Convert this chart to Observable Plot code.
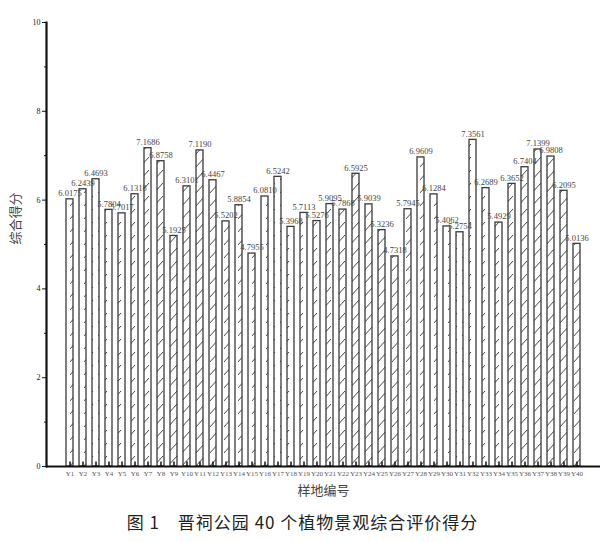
<!DOCTYPE html>
<html>
<head>
<meta charset="utf-8">
<script src="https://cdn.jsdelivr.net/npm/d3@7"></script>
<script src="https://cdn.jsdelivr.net/npm/@observablehq/plot@0.6"></script>
<style>
  body { margin: 0; background: #fff; }
  #chart { width: 605px; }
  .caption { width: 605px; text-align: center; font-family: "Noto Sans CJK SC", serif; font-size: 17px; color: #222; padding-top: 6px; line-height: 22px; letter-spacing: 1px; }
</style>
</head>
<body>
<div id="chart"></div>
<div class="caption">图 1　晋祠公园 40 个植物景观综合评价得分</div>
<script>
const categories = ["Y1","Y2","Y3","Y4","Y5","Y6","Y7","Y8","Y9","Y10",
  "Y11","Y12","Y13","Y14","Y15","Y16","Y17","Y18","Y19","Y20",
  "Y21","Y22","Y23","Y24","Y25","Y26","Y27","Y28","Y29","Y30",
  "Y31","Y32","Y33","Y34","Y35","Y36","Y37","Y38","Y39","Y40"];
const scores = [6.0175, 6.2439, 6.4693, 5.7804, 5.7017, 6.1318, 7.1686, 6.8758, 5.1925, 6.3101,
  7.1190, 6.4467, 5.5202, 5.8854, 4.7955, 6.0810, 6.5242, 5.3968, 5.7113, 5.5276,
  5.9095, 5.7868, 6.5925, 5.9039, 5.3236, 4.7318, 5.7945, 6.9609, 6.1284, 5.4062,
  5.2754, 7.3561, 6.2689, 5.4929, 6.3652, 6.7404, 7.1399, 6.9808, 6.2095, 5.0136];
const yMajorTicks = [0, 2, 4, 6, 8, 10];
const yMinorTicks = [1, 3, 5, 7, 9];
const xTitle = ["样地编号"];
const yTitle = ["综合得分"];

const data = categories.map((c, i) => ({site: c, score: scores[i]}));
const serif = "Liberation Serif, DejaVu Serif, serif";
const cjk = "Noto Sans CJK SC, sans-serif";

const svg = Plot.plot({
  width: 605,
  height: 505,
  marginLeft: 46,
  marginRight: 5,
  marginTop: 22,
  marginBottom: 39,
  style: {background: "#fff", color: "#222"},
  x: {domain: categories, padding: 0.48, label: null},
  y: {domain: [0, 10], label: null},
  marks: [
    Plot.barY(data, {x: "site", y: "score", fill: "url(#hatch)", stroke: "#3a3a3a", strokeWidth: 1.3}),
    Plot.text(data, {x: "site", y: "score", text: d => d.score.toFixed(4), dy: -6, fontSize: 8.5, fontFamily: serif, fill: "#444"}),
    Plot.ruleX(categories, {x: d => d, y1: 0, y2: 0.1, stroke: "#111", strokeWidth: 1.5}),
    Plot.ruleY([0], {stroke: "#111", strokeWidth: 2.2}),
    Plot.frame({anchor: "left", stroke: "#111", strokeWidth: 2.2}),
    Plot.axisY({ticks: yMajorTicks, tickSize: 4, tickPadding: 2, fontSize: 8, fontFamily: serif, label: null, stroke: "#111"}),
    Plot.axisY({ticks: yMinorTicks, tickSize: 2, tickFormat: () => "", label: null, stroke: "#111"}),
    Plot.axisX({tickSize: 0, tickPadding: 5, fontSize: 7, fontFamily: serif, label: null, fill: "#555"}),
    Plot.text(xTitle, {text: d => d, frameAnchor: "bottom", dy: 28, fontSize: 13, fontFamily: cjk, fill: "#444"}),
    Plot.text(yTitle, {text: d => d, frameAnchor: "left", dx: -31, rotate: -90, fontSize: 13, fontFamily: cjk, fill: "#444"})
  ]
});

d3.select(svg).insert("defs", ":first-child").html(
  '<pattern id="hatch" patternUnits="userSpaceOnUse" width="14" height="13">' +
  '<rect width="14" height="13" fill="#fff"></rect>' +
  '<path d="M-1,12 L9,1" stroke="#444" stroke-width="1"></path>' +
  '</pattern>'
);

document.getElementById("chart").appendChild(svg);
</script>
</body>
</html>
